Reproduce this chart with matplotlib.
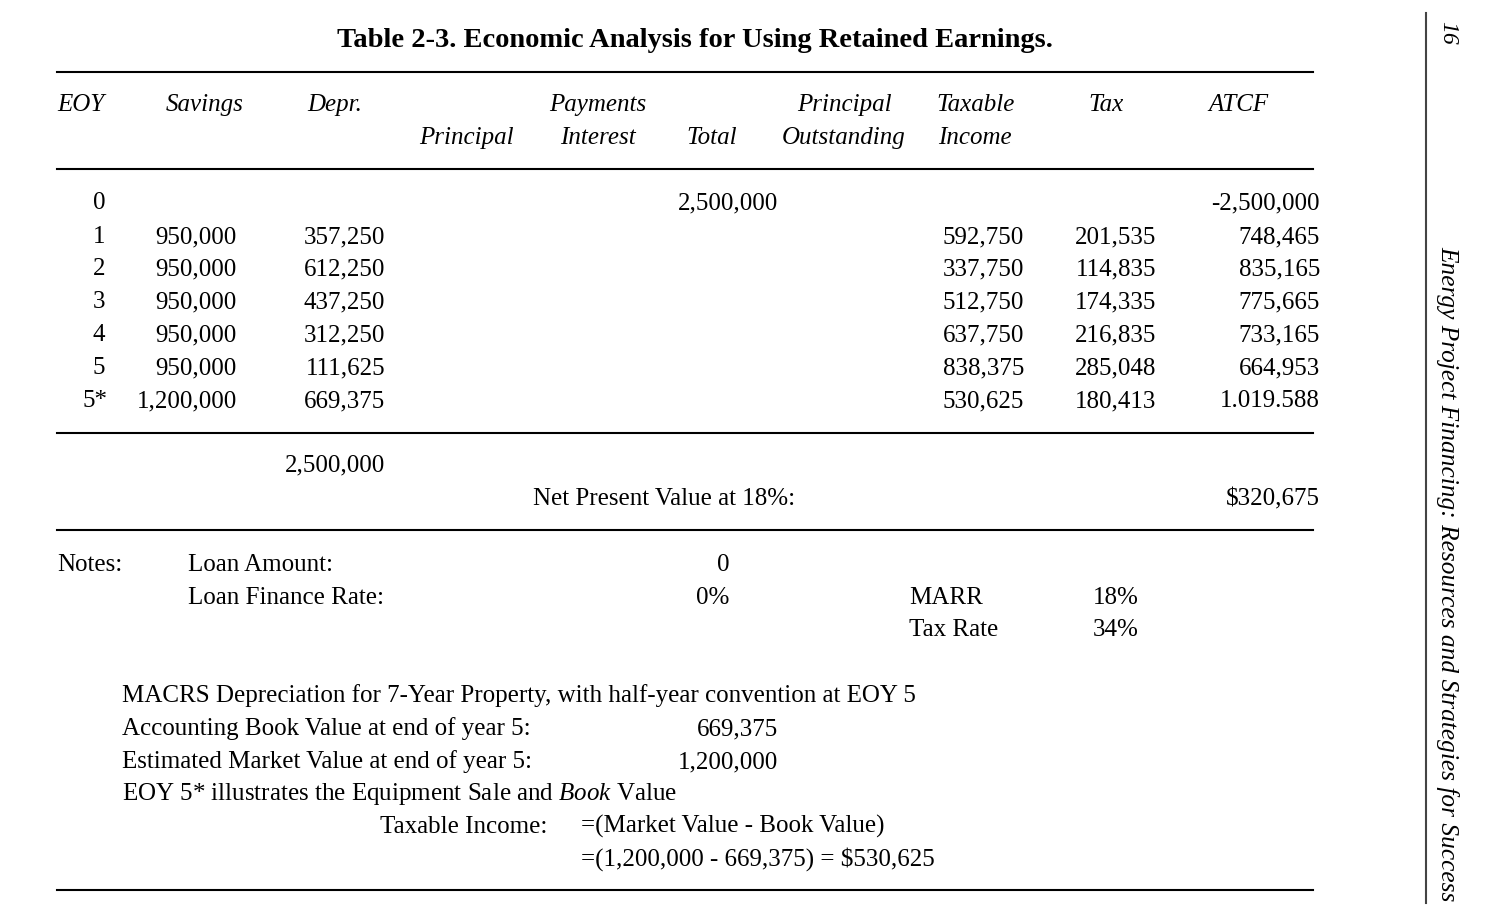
import matplotlib

matplotlib.use("Agg")
import matplotlib.pyplot as plt
from matplotlib.lines import Line2D

W, H = 1494, 910
FONT = "Liberation Serif"
FS = 18

plt.rcParams["mathtext.fontset"] = "custom"
plt.rcParams["mathtext.rm"] = FONT
plt.rcParams["mathtext.it"] = FONT + ":italic"

# ---- table content --------------------------------------------------------
title = "Table 2-3. Economic Analysis for Using Retained Earnings."
eoy = ["0", "1", "2", "3", "4", "5", "5*"]
savings = ["", "950,000", "950,000", "950,000", "950,000", "950,000", "1,200,000"]
depr = ["", "357,250", "612,250", "437,250", "312,250", "111,625", "669,375"]
total = ["2,500,000", "", "", "", "", "", ""]
taxable = ["", "592,750", "337,750", "512,750", "637,750", "838,375", "530,625"]
tax = ["", "201,535", "114,835", "174,335", "216,835", "285,048", "180,413"]
atcf = ["-2,500,000", "748,465", "835,165", "775,665", "733,165", "664,953", "1.019.588"]
depr_total = "2,500,000"
npv_label = "Net Present Value at 18%:"
npv = "$320,675"
loan_amount, loan_rate, marr, tax_rate = "0", "0%", "18%", "34%"
book_value, market_value = "669,375", "1,200,000"
sale_income = "$530,625"
running_head = "Energy Project Financing: Resources and Strategies for Success"
page_no = "16"

fig = plt.figure(figsize=(W / 100, H / 100), dpi=100)
fig.patch.set_facecolor("white")


def t(x, y, s, ha="left", style="normal", weight="normal", size=FS, **kw):
    """Text at pixel position (x, baseline y) measured from the top-left."""
    fig.text(x / W, 1 - y / H, s, ha=ha, va="baseline", family=FONT,
             style=style, weight=weight, fontsize=size, **kw)


def hline(y, x0=57, x1=1313):
    fig.add_artist(Line2D([x0 / W, x1 / W], [1 - y / H, 1 - y / H],
                          color="black", lw=1.5, transform=fig.transFigure))


t(695, 47, title, ha="center", weight="bold", size=20.5)

for y in (72, 169, 433, 530, 890):
    hline(y)

# header (italic); x = centre of each label
hdr1 = [(205, "Savings"), (335, "Depr."), (598, "Payments"),
        (844, "Principal"), (976, "Taxable"), (1106, "Tax"), (1238, "ATCF")]
hdr2 = [(466, "Principal"), (598, "Interest"), (712, "Total"),
        (844, "Outstanding"), (975, "Income")]
t(57, 111, "EOY", style="italic")
for x, s in hdr1:
    t(x, 111, s, ha="center", style="italic")
for x, s in hdr2:
    t(x, 144, s, ha="center", style="italic")

# body rows
row_y = [209, 243, 275, 308, 341, 374, 407]
for i, y in enumerate(row_y):
    t(99 if eoy[i] != "5*" else 95, y, eoy[i], ha="center")
    t(237, y, savings[i], ha="right")
    t(385, y, depr[i], ha="right")
    t(778, y, total[i], ha="right")
    t(1024, y, taxable[i], ha="right")
    t(1156, y, tax[i], ha="right")
    t(1320, y, atcf[i], ha="right")

t(385, 471, depr_total, ha="right")
t(795, 505, npv_label, ha="right")
t(1320, 505, npv, ha="right")

# notes
t(57, 571, "Notes:")
t(188, 571, "Loan Amount:")
t(723, 571, loan_amount, ha="center")
t(188, 604, "Loan Finance Rate:")
t(696, 604, loan_rate)
t(909, 604, "MARR")
t(1093, 604, marr)
t(909, 636, "Tax Rate")
t(1093, 636, tax_rate)

t(122, 702, "MACRS Depreciation for 7-Year Property, with half-year convention at EOY 5")
t(122, 735, "Accounting Book Value at end of year 5:")
t(778, 735, book_value, ha="right")
t(122, 768, "Estimated Market Value at end of year 5:")
t(778, 768, market_value, ha="right")
t(122, 800, r"EOY 5* illustrates the Equipment Sale and $\mathit{Book}$ Value")
t(547, 833, "Taxable Income:", ha="right")
t(581, 833, "=(Market Value - Book Value)")
t(581, 866, f"=({market_value} - {book_value}) = {sale_income}")

# running head on the right margin
fig.add_artist(Line2D([1426 / W, 1426 / W], [1 - 13 / H, 1 - 903 / H],
                      color="#444444", lw=1.5, transform=fig.transFigure))
fig.text(1448 / W, 1 - 33 / H, page_no, rotation=-90, ha="center", va="center",
         family=FONT, style="italic", fontsize=17)
fig.text(1448 / W, 1 - 574 / H, running_head, rotation=-90, ha="center", va="center",
         family=FONT, style="italic", fontsize=18.3)

fig.savefig("out.png", dpi=100, facecolor="white")
